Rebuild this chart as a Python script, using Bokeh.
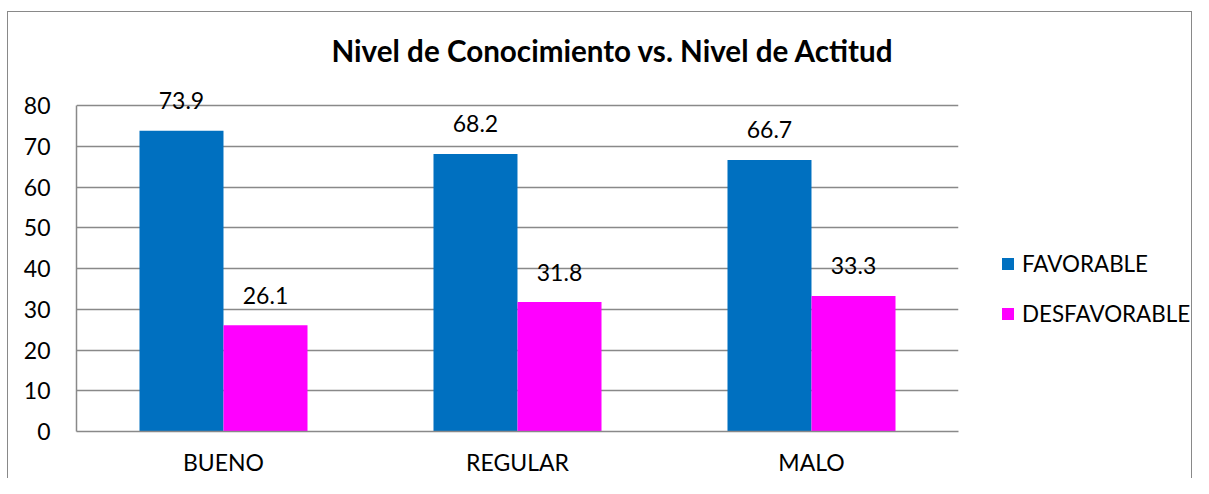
from bokeh.plotting import figure
from bokeh.models import ColumnDataSource, Legend, LegendItem, LabelSet, FactorRange
from bokeh.layouts import row, column
from bokeh.transform import dodge
from bokeh.core.properties import value
from bokeh.embed import file_html
from bokeh.resources import INLINE

categories = ["BUENO", "REGULAR", "MALO"]
favorable = [73.9, 68.2, 66.7]
desfavorable = [26.1, 31.8, 33.3]
series_names = ["FAVORABLE", "DESFAVORABLE"]
colors = ["#0070C0", "#FF00FF"]
y_ticks = [0, 10, 20, 30, 40, 50, 60, 70, 80]
title_text = "Nivel de Conocimiento vs. Nivel de Actitud"

FONT = "Lato"
FS = "23px"
LFS = "22.4px"
EDGE = "#898989"

src = ColumnDataSource(data=dict(
    cat=categories,
    fav=favorable,
    des=desfavorable,
    fav_lbl=[f"{v:.1f}" for v in favorable],
    des_lbl=[f"{v:.1f}" for v in desfavorable],
))

p = figure(
    x_range=FactorRange(*categories, range_padding=0),
    y_range=(0, 85),
    width=960, height=466,
    output_backend="svg", toolbar_location=None,
    min_border_left=68, min_border_top=60, min_border_right=10, min_border_bottom=46,
    title=title_text,
)
p.outline_line_color = None
p.background_fill_color = "white"
p.border_fill_color = "white"

p.title.align = "left"
p.title.offset = 255
p.title.standoff = 36
p.title.text_font = FONT
p.title.text_font_style = "bold"
p.title.text_font_size = "29.6px"
p.title.text_color = "black"

bw = 0.2857
off = 0.1429
p.vbar(x=dodge("cat", -off, range=p.x_range), top="fav", width=bw, source=src,
       fill_color=colors[0], line_color=None)
p.vbar(x=dodge("cat", off, range=p.x_range), top="des", width=bw, source=src,
       fill_color=colors[1], line_color=None)

for col, lbl, o in (("fav", "fav_lbl", -off), ("des", "des_lbl", off)):
    p.add_layout(LabelSet(x=dodge("cat", o, range=p.x_range), y=col, text=lbl, source=src,
                          text_align="center", text_baseline="middle", y_offset=30,
                          text_font=value(FONT), text_font_size=value(FS),
                          text_color="black"))

# axes
p.yaxis.ticker = y_ticks
p.yaxis.bounds = (0, 80)
p.yaxis.major_label_text_font = FONT
p.yaxis.major_label_text_font_size = FS
p.yaxis.major_label_text_color = "black"
p.yaxis.major_label_standoff = 26
p.yaxis.major_tick_line_color = None
p.yaxis.major_tick_out = 0
p.yaxis.minor_tick_line_color = None
p.yaxis.axis_line_color = EDGE
p.yaxis.axis_line_width = 1.5

p.xaxis.major_label_text_font = FONT
p.xaxis.major_label_text_font_size = FS
p.xaxis.major_label_text_color = "black"
p.xaxis.major_label_text_line_height = 1.0
p.xaxis.major_label_standoff = 16
p.xaxis.major_tick_line_color = None
p.xaxis.major_tick_out = 0
p.xaxis.axis_line_color = EDGE
p.xaxis.axis_line_width = 1.5

p.xgrid.grid_line_color = None
p.ygrid.grid_line_color = EDGE
p.ygrid.grid_line_width = 1.5

# legend panel (separate figure to the right of the plot area);
# its proxy bars use the same data but lie outside its (0, 1) view
q = figure(width=223, height=466, output_backend="svg", toolbar_location=None,
           x_axis_type=None, y_axis_type=None, x_range=(0, 1), y_range=(0, 1),
           min_border=0)
q.outline_line_color = None
q.grid.visible = False
g1 = q.vbar(x="fav", top="fav", width=0.1, source=src,
            fill_color=colors[0], line_color=None)
g2 = q.vbar(x="des", top="des", width=0.1, source=src,
            fill_color=colors[1], line_color=None)
legend = Legend(items=[LegendItem(label=series_names[0], renderers=[g1]),
                       LegendItem(label=series_names[1], renderers=[g2])],
                location=(32, 104), orientation="vertical",
                glyph_width=15, glyph_height=15, label_standoff=7,
                spacing=23, padding=0, margin=0, border_line_color=None,
                background_fill_alpha=0,
                label_text_font=FONT, label_text_font_size=LFS,
                label_text_color="black", label_height=20)
q.add_layout(legend, "center")

inner = row(p, q, styles={"border-left": f"1px solid {EDGE}",
                          "border-top": f"1px solid {EDGE}",
                          "border-right": f"1px solid {EDGE}"})
layout = column(inner, styles={"padding-left": "7px", "padding-top": "11px"})

open("out.html", "w").write(file_html(layout, INLINE))
